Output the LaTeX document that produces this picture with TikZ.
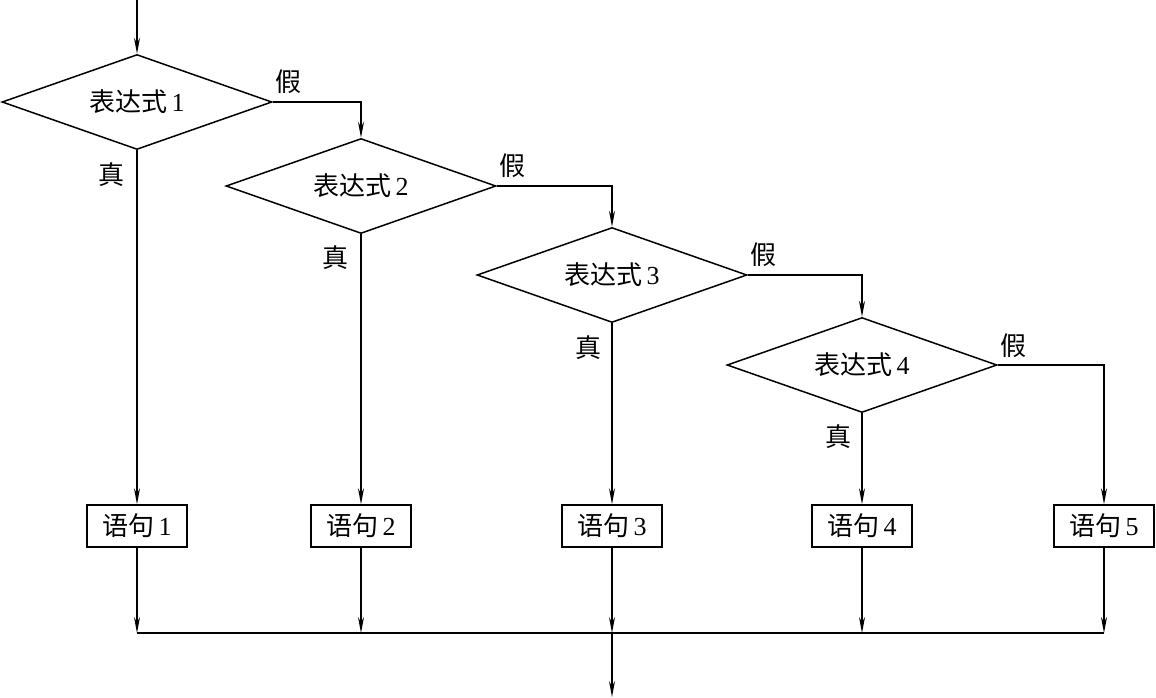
\documentclass[tikz,border=0pt]{standalone}
\usepackage{fontspec}
\setmainfont{Liberation Serif}
\newfontfamily\cjk{Noto Sans CJK SC}
\usetikzlibrary{shapes.geometric,arrows.meta}
\begin{document}
\begin{tikzpicture}[x=1pt,y=-1pt,
  every node/.style={font=\fontsize{26}{28}\selectfont},
  cond/.style={diamond,draw,line width=1.5pt,inner sep=0pt,aspect=2.8,minimum width=270pt,minimum height=95pt},
  stmt/.style={rectangle,draw,line width=1.5pt,inner sep=0pt,minimum width=100pt,minimum height=42pt},
  lab/.style={inner sep=0pt},
  conn/.style={line width=1.5pt,-{Stealth[length=16pt,width=6pt]}},
  plain/.style={line width=1.5pt}]
\useasboundingbox (0,0) rectangle (1156,697);
\node[cond] (d1) at (137,102) {{\cjk 表达式}\,1};
\node[cond] (d2) at (361,186) {{\cjk 表达式}\,2};
\node[cond] (d3) at (612,275) {{\cjk 表达式}\,3};
\node[cond] (d4) at (862,365) {{\cjk 表达式}\,4};
\node[stmt] (b1) at (137,526) {{\cjk 语句}\,1};
\node[stmt] (b2) at (361,526) {{\cjk 语句}\,2};
\node[stmt] (b3) at (612,526) {{\cjk 语句}\,3};
\node[stmt] (b4) at (862,526) {{\cjk 语句}\,4};
\node[stmt] (b5) at (1104,526) {{\cjk 语句}\,5};
\coordinate (start) at (137,0);
\coordinate (j1) at (137,633);
\coordinate (j2) at (361,633);
\coordinate (j3) at (612,633);
\coordinate (j4) at (862,633);
\coordinate (j5) at (1104,633);
\coordinate (fin) at (612,697);
\node[lab] (f1) at (288,82) {\cjk 假};
\node[lab] (f2) at (512,166) {\cjk 假};
\node[lab] (f3) at (763,255) {\cjk 假};
\node[lab] (f4) at (1013,346) {\cjk 假};
\node[lab] (t1) at (111,175) {\cjk 真};
\node[lab] (t2) at (335,258) {\cjk 真};
\node[lab] (t3) at (588,348) {\cjk 真};
\node[lab] (t4) at (838,437) {\cjk 真};
\draw[conn] (start) -- (d1.north);
\draw[conn] (d1.east) -| (d2.north);
\draw[conn] (d2.east) -| (d3.north);
\draw[conn] (d3.east) -| (d4.north);
\draw[conn] (d4.east) -| (b5.north);
\draw[conn] (d1.south) -- (b1.north);
\draw[conn] (d2.south) -- (b2.north);
\draw[conn] (d3.south) -- (b3.north);
\draw[conn] (d4.south) -- (b4.north);
\draw[conn] (b1.south) -- (j1);
\draw[conn] (b2.south) -- (j2);
\draw[conn] (b3.south) -- (j3);
\draw[conn] (b4.south) -- (j4);
\draw[conn] (b5.south) -- (j5);
\draw[plain] (j1) -- (j5);
\draw[conn] (j3) -- (fin);
\end{tikzpicture}
\end{document}
